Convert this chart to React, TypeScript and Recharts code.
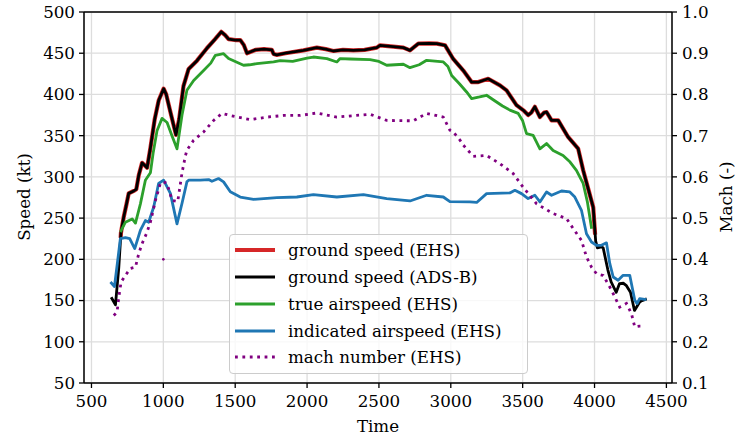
import { LineChart, Line, XAxis, YAxis, CartesianGrid, ReferenceLine, Legend } from "recharts";

// ticks
const timeTicks = [500, 1000, 1500, 2000, 2500, 3000, 3500, 4000, 4500];
const speedTicks = [50, 100, 150, 200, 250, 300, 350, 400, 450, 500];
const machTicks = [0.1, 0.2, 0.3, 0.4, 0.5, 0.6, 0.7, 0.8, 0.9, 1.0];

// [time, speed kt]
const groundSpeedAdsb: [number, number][] = [
  [637, 154], [667, 145], [690, 190], [705, 232], [724, 251], [745, 268], [759, 280], [794, 283],
  [812, 285], [829, 302], [852, 317], [870, 314], [887, 311], [910, 335], [940, 370], [968, 393],
  [1002, 407], [1020, 400], [1050, 378], [1088, 351], [1110, 370], [1140, 410], [1176, 431],
  [1234, 441], [1303, 456], [1360, 467], [1403, 476], [1430, 472], [1454, 467], [1500, 466],
  [1535, 466], [1560, 460], [1582, 450], [1640, 454], [1700, 455], [1755, 454], [1767, 449],
  [1790, 448], [1850, 450], [1975, 453.5], [2068, 456.8], [2130, 455], [2183, 452.7], [2250, 454],
  [2322, 453.5], [2400, 454], [2485, 456.8], [2508, 459.6], [2600, 458], [2670, 456.8],
  [2716, 453.5], [2774, 461.6], [2850, 462], [2902, 461.6], [2960, 459.6], [3017, 443],
  [3087, 429], [3145, 415], [3191, 415], [3260, 419], [3342, 411], [3388, 405], [3457, 387],
  [3510, 380], [3538, 375], [3560, 378], [3585, 385], [3620, 372.6], [3650, 378], [3666, 378.7],
  [3701, 368.6], [3747, 368.6], [3816, 348.4], [3886, 334.3], [3921, 308], [3960, 283],
  [3991, 263], [4008, 222], [4020, 214], [4047, 215], [4060, 214], [4093, 187], [4116, 172.5],
  [4151, 160], [4174, 170.6], [4200, 171], [4220, 168.5], [4250, 160], [4278, 138], [4313, 148],
  [4330, 150], [4363, 152],
];

const groundSpeedEhs: [number, number][] = [
  [703, 226], [705, 232], [724, 251], [745, 268], [759, 280], [794, 283], [812, 285], [829, 302],
  [852, 317], [870, 314], [887, 311], [910, 335], [940, 370], [968, 393], [1002, 407], [1020, 400],
  [1050, 378], [1088, 351], [1110, 370], [1140, 410], [1176, 431], [1234, 441], [1303, 456],
  [1360, 467], [1403, 476], [1430, 472], [1454, 467], [1500, 466], [1535, 466], [1560, 460],
  [1582, 450], [1640, 454], [1700, 455], [1755, 454], [1767, 449], [1790, 448], [1850, 450],
  [1975, 453.5], [2068, 456.8], [2130, 455], [2183, 452.7], [2250, 454], [2322, 453.5],
  [2400, 454], [2485, 456.8], [2508, 459.6], [2600, 458], [2670, 456.8], [2716, 453.5],
  [2774, 461.6], [2850, 462], [2902, 461.6], [2960, 459.6], [3017, 443], [3087, 429], [3145, 415],
  [3191, 415], [3260, 419], [3342, 411], [3388, 405], [3457, 387], [3510, 380], [3538, 375],
  [3560, 378], [3585, 385], [3620, 372.6], [3650, 378], [3666, 378.7], [3701, 368.6],
  [3747, 368.6], [3816, 348.4], [3886, 334.3], [3921, 308], [3960, 283], [3991, 263], [4004, 230],
];

const trueAirspeed: [number, number][] = [
  [701, 233], [736, 245], [783, 249], [806, 244], [840, 267], [875, 296], [910, 305], [930, 330],
  [956, 356], [991, 371], [1026, 366], [1060, 350], [1095, 334], [1130, 375], [1164, 405],
  [1211, 417], [1280, 429], [1330, 438], [1362, 447.5], [1419, 449.5], [1454, 443.5], [1500, 440],
  [1558, 435.4], [1600, 436], [1651, 437.4], [1767, 439.4], [1813, 441], [1900, 440], [2000, 444],
  [2044, 445.4], [2138, 443.5], [2207, 439.4], [2230, 443.5], [2300, 443], [2438, 442.3],
  [2500, 440], [2554, 435.4], [2670, 436.6], [2716, 432.5], [2780, 436], [2832, 441.4],
  [2948, 439.4], [2980, 434], [3006, 423], [3060, 413], [3110, 403], [3145, 395], [3200, 397],
  [3249, 399], [3300, 393], [3360, 386], [3411, 381], [3469, 377], [3500, 368], [3527, 352.5],
  [3573, 350.4], [3620, 334], [3666, 340.4], [3712, 332], [3781, 326], [3830, 318], [3874, 308],
  [3921, 292], [3950, 270], [3980, 237],
];

const indicatedAirspeed: [number, number][] = [
  [632, 172.5], [660, 167], [680, 195], [701, 225], [736, 226.4], [766, 225], [801, 213],
  [840, 235], [875, 247], [898, 245], [933, 263.5], [967, 292], [1002, 296], [1049, 280],
  [1095, 243], [1130, 268], [1164, 294], [1176, 296], [1257, 296], [1315, 296.7], [1338, 294.7],
  [1384, 298], [1419, 294], [1466, 282], [1535, 275.6], [1628, 272.8], [1790, 274.9],
  [1929, 275.6], [2044, 278.5], [2207, 275.6], [2392, 278.5], [2554, 273.7], [2716, 270.8],
  [2832, 277.7], [2948, 275.6], [2994, 270], [3133, 269.6], [3180, 269], [3249, 279.7],
  [3411, 280.5], [3446, 283.7], [3492, 279.7], [3538, 273.7], [3585, 277.7], [3620, 269.6],
  [3666, 281.7], [3701, 277.7], [3770, 282.9], [3828, 281.7], [3863, 275.6], [3909, 259.5],
  [3944, 231], [3979, 221], [4014, 217], [4048, 217], [4083, 220], [4106, 195], [4130, 178.6],
  [4164, 174.6], [4199, 180.6], [4245, 180.6], [4280, 150.3], [4296, 146.3], [4314, 152.4],
  [4361, 151],
];

// [time, mach]
const machNumber: [number, number][] = [
  [655, 0.264], [678, 0.272], [690, 0.308], [706, 0.345], [736, 0.361], [771, 0.378],
  [806, 0.381], [829, 0.414], [852, 0.438], [882, 0.462], [910, 0.49], [945, 0.543],
  [979, 0.584], [1002, 0.588], [1026, 0.584], [1061, 0.543], [1100, 0.54], [1130, 0.61],
  [1153, 0.65], [1164, 0.665], [1211, 0.689], [1280, 0.709], [1350, 0.737], [1408, 0.754],
  [1466, 0.749], [1605, 0.739], [1721, 0.745], [1836, 0.749], [1952, 0.749], [2068, 0.755],
  [2207, 0.745], [2438, 0.752], [2554, 0.737], [2739, 0.736], [2832, 0.754], [2948, 0.745],
  [2994, 0.713], [3017, 0.709], [3064, 0.689], [3087, 0.677], [3156, 0.65], [3249, 0.652],
  [3342, 0.632], [3434, 0.608], [3503, 0.575], [3596, 0.535], [3712, 0.511], [3805, 0.499],
  [3851, 0.475], [3909, 0.446], [3944, 0.406], [3979, 0.381], [4014, 0.365], [4060, 0.361],
  [4106, 0.333], [4141, 0.309], [4175, 0.284], [4222, 0.293], [4257, 0.268], [4280, 0.236],
  [4314, 0.238], [4349, 0.238],
];
const machOutlier: [number, number][] = [[1000, 0.4]];

const toPoints = (arr: [number, number][]) => arr.map(([t, v]) => ({ t, v }));

const FONT = "'DejaVu Serif', serif";
const MACH_DASH = "2.8 4.6";

const legendItems = [
  { label: "ground speed (EHS)", color: "#d62728", width: 4.2, dash: undefined },
  { label: "ground speed (ADS-B)", color: "#000000", width: 2.8, dash: undefined },
  { label: "true airspeed (EHS)", color: "#2ca02c", width: 2.8, dash: undefined },
  { label: "indicated airspeed (EHS)", color: "#1f77b4", width: 2.8, dash: undefined },
  { label: "mach number (EHS)", color: "#800080", width: 2.8, dash: MACH_DASH },
];

function LegendBox() {
  return (
    <div
      style={{
        width: 299,
        height: 140,
        border: "1px solid #cccccc",
        borderRadius: 4,
        background: "rgba(255,255,255,0.8)",
        paddingTop: 2,
        boxSizing: "border-box",
        fontFamily: FONT,
        fontSize: 16.7,
        color: "#000",
      }}
    >
      {legendItems.map((it) => (
        <div key={it.label} style={{ display: "flex", alignItems: "center", height: 26.75 }}>
          <svg width={58} height={10} style={{ flexShrink: 0 }}>
            <line x1={5} x2={45} y1={5} y2={5} stroke={it.color} strokeWidth={it.width} strokeDasharray={it.dash} />
          </svg>
          <span style={{ whiteSpace: "nowrap" }}>{it.label}</span>
        </div>
      ))}
    </div>
  );
}

const tickStyle = { fontSize: 16.7, fill: "#000" };

export default function App() {
  return (
    <div style={{ position: "absolute", left: 0, top: 0, width: 735, height: 439, background: "#fff", fontFamily: FONT }}>
      <style>{`.recharts-cartesian-axis-tick-value, .recharts-text { font-family: 'DejaVu Serif', serif; }`}</style>
      <LineChart width={735} height={439} margin={{ top: 12, right: 0, bottom: 0, left: 0 }} style={{ fontFamily: FONT }}>
        <CartesianGrid yAxisId="left" stroke="#dddddd" strokeWidth={1.3} />
        <XAxis
          dataKey="t"
          type="number"
          domain={[448, 4539]}
          ticks={timeTicks}
          allowDataOverflow
          height={56}
          tick={tickStyle}
          tickSize={5}
          tickMargin={7}
          axisLine={{ stroke: "#000", strokeWidth: 1.5 }}
          tickLine={{ stroke: "#000", strokeWidth: 1.3 }}
          label={() => (
            <text x={378} y={432} textAnchor="middle" fontSize={16.7} fontFamily={FONT} fill="#000">
              Time
            </text>
          )}
        />
        <YAxis
          yAxisId="left"
          type="number"
          domain={[50, 500]}
          ticks={speedTicks}
          width={84}
          tick={tickStyle}
          tickSize={5}
          tickMargin={4}
          axisLine={{ stroke: "#000", strokeWidth: 1.5 }}
          tickLine={{ stroke: "#000", strokeWidth: 1.3 }}
          label={() => (
            <text x={30} y={197} transform="rotate(-90 30 197)" textAnchor="middle" fontSize={16.7} fontFamily={FONT} fill="#000">
              Speed (kt)
            </text>
          )}
        />
        <YAxis
          yAxisId="right"
          orientation="right"
          type="number"
          domain={[0.1, 1.0]}
          ticks={machTicks}
          tickFormatter={(v: number) => v.toFixed(1)}
          width={63}
          tick={tickStyle}
          tickSize={5}
          tickMargin={5}
          axisLine={{ stroke: "#000", strokeWidth: 1.5 }}
          tickLine={{ stroke: "#000", strokeWidth: 1.3 }}
          label={() => (
            <text x={732} y={197} transform="rotate(-90 732 197)" textAnchor="middle" fontSize={16.7} fontFamily={FONT} fill="#000">
              Mach (-)
            </text>
          )}
        />
        <ReferenceLine yAxisId="left" y={500} stroke="#000" strokeWidth={1.5} />
        <Line yAxisId="left" data={toPoints(groundSpeedEhs)} dataKey="v" type="linear" stroke="#d62728" strokeWidth={4.2} strokeLinejoin="round" dot={false} isAnimationActive={false} />
        <Line yAxisId="left" data={toPoints(groundSpeedAdsb)} dataKey="v" type="linear" stroke="#000000" strokeWidth={2.8} strokeLinejoin="round" dot={false} isAnimationActive={false} />
        <Line yAxisId="left" data={toPoints(trueAirspeed)} dataKey="v" type="linear" stroke="#2ca02c" strokeWidth={2.8} strokeLinejoin="round" dot={false} isAnimationActive={false} />
        <Line yAxisId="left" data={toPoints(indicatedAirspeed)} dataKey="v" type="linear" stroke="#1f77b4" strokeWidth={2.8} strokeLinejoin="round" dot={false} isAnimationActive={false} />
        <Line yAxisId="right" data={toPoints(machNumber)} dataKey="v" type="linear" stroke="#800080" strokeWidth={2.8} strokeDasharray={MACH_DASH} dot={false} isAnimationActive={false} />
        <Line yAxisId="right" data={toPoints(machOutlier)} dataKey="v" type="linear" stroke="none" dot={{ r: 1.3, fill: "#800080", stroke: "none" }} isAnimationActive={false} />
        <Legend
          layout="vertical"
          align="center"
          verticalAlign="middle"
          content={() => <LegendBox />}
          wrapperStyle={{ left: 229, top: 234, width: 299, height: 140 }}
        />
      </LineChart>
    </div>
  );
}
